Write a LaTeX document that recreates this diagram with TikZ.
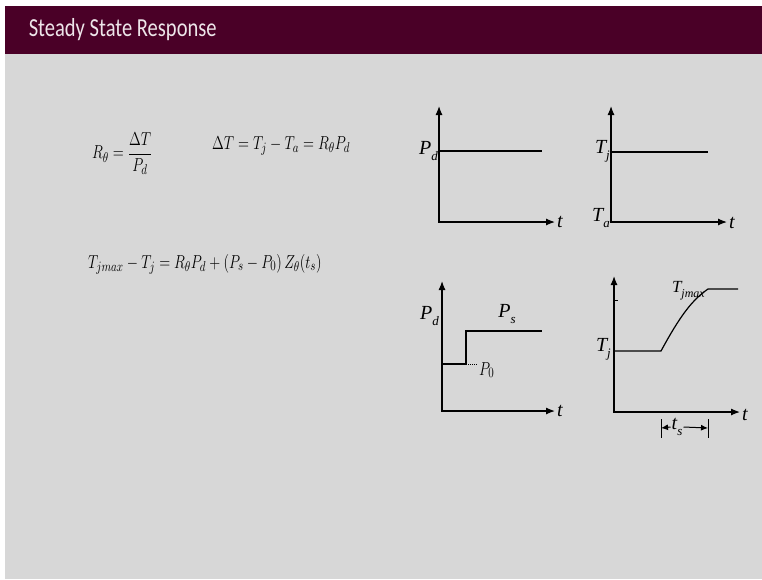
\documentclass[tikz,border=0pt]{standalone}
\usepackage{fontspec}
\newfontfamily\titlefont{Carlito}
\newfontfamily\plotfont{Liberation Serif}
\usetikzlibrary{arrows.meta}
\definecolor{slidebar}{HTML}{4A0027}
\definecolor{slidebg}{HTML}{D7D7D7}
\newcommand{\plotsym}[2]{{\plotfont\itshape #1\raisebox{-0.3em}{\fontsize{13}{13}\selectfont #2}}}
\tikzset{
  axes/.style={line width=1.2pt, {Latex[length=9pt,width=7pt]}-{Latex[length=9pt,width=7pt]}},
  trace/.style={line width=1.2pt},
  plotlbl/.style={font=\plotfont\itshape\fontsize{20}{22}\selectfont, inner sep=1pt},
  hand/.style={font=\fontsize{15}{18}\selectfont, inner sep=0pt, anchor=west, yscale=1.3, transform shape},
  dimarrow/.style={line width=1pt, -{Latex[length=7pt,width=6pt]}}
}
\begin{document}
\begin{tikzpicture}[x=1pt,y=-1pt]
\useasboundingbox (0,0) rectangle (762,579);
\fill[white] (0,0) rectangle (762,579);
\fill[slidebg] (5,54) rectangle (762,579);
\fill[slidebar] (5,6) rectangle (762,54);
\node[anchor=west, text=white!90!slidebar, font=\titlefont\fontsize{26}{28}\selectfont, xscale=0.79, transform shape] (title) at (26,30) {Steady State Response};

% equations
\node[hand] (eqR) at (92,154) {$\displaystyle R_\theta = \frac{\Delta T}{P_d}$};
\node[hand] (eqDT) at (212,146) {$\Delta T = T_j - T_a = R_\theta P_d$};
\node[hand] (eqTmax) at (88,264) {$T_{jmax} - T_j = R_\theta P_d + (P_s - P_0)\, Z_\theta(t_s)$};

% plot 1: power
\draw[axes] (439,106) |- (555,222);
\draw[trace] (439,151) -- (542,151);
\node[plotlbl, anchor=east] (pd1) at (439,151) {\plotsym{P}{d}};
\node[plotlbl, anchor=west] (t1) at (556,222) {\textit{t}};

% plot 2: temperature
\draw[axes] (611,106) |- (727,222);
\draw[trace] (611,152) -- (708,152);
\node[plotlbl, anchor=east] (tj2) at (611,151) {\plotsym{T}{j}};
\node[plotlbl, anchor=east] (ta2) at (611,218) {\plotsym{T}{a}};
\node[plotlbl, anchor=west] (t2) at (728,223) {\textit{t}};

% plot 3: step in power
\draw[axes] (442,281) |- (555,411);
\draw[trace] (442,364) -- (466,364) -- (466,331) -- (542,331);
\draw[line width=1pt, densely dotted] (466,364) -- (478,364);
\node[hand] (p0) at (479,370) {$P_0$};
\node[plotlbl, anchor=east] (pd3) at (440,316) {\plotsym{P}{d}};
\node[plotlbl] (ps3) at (507,314) {\plotsym{P}{s}};
\node[plotlbl, anchor=west] (t3) at (556,411) {\textit{t}};

% plot 4: temperature rise
\draw[axes] (614,276) |- (740,412);
\draw[line width=1pt] (614,300) -- (618,300);
\draw[trace] (614,351) -- (661,351) .. controls (680,316) and (692,300) .. (708,289) -- (738,289);
\node[plotlbl, anchor=east] (tj4) at (612,349) {\plotsym{T}{j}};
\node[plotlbl, anchor=base east, inner sep=0pt, font=\plotfont\itshape\fontsize{17}{19}\selectfont] (tjmax) at (705,292) {T\raisebox{-0.3em}{\fontsize{12}{12}\selectfont jmax}};
\node[plotlbl, anchor=west] (t4) at (741,415) {\textit{t}};
\draw[line width=1pt] (661,419) -- (661,438);
\draw[line width=1pt] (708,419) -- (708,438);
\node[plotlbl, inner sep=1pt] (ts) at (677,427) {\plotsym{t}{s}};
\draw[dimarrow] (ts.west) -- (661,428);
\draw[dimarrow] (ts.east) -- (708,428);
\end{tikzpicture}
\end{document}
